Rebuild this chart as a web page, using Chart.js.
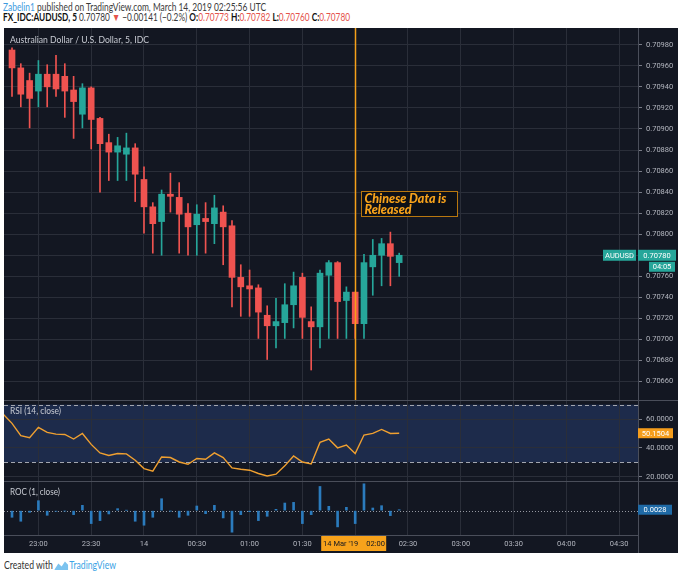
<!DOCTYPE html>
<html>
<head>
<meta charset="utf-8">
<script src="https://cdn.jsdelivr.net/npm/chart.js@4.4.1/dist/chart.umd.min.js"></script>
<style>
  html, body { margin: 0; padding: 0; background: #fff; }
  body { width: 680px; height: 577px; position: relative; overflow: hidden; font-family: Lato, "Open Sans", sans-serif; }
  .hdr { position: absolute; left: 3px; white-space: nowrap; font-size: 10.5px; line-height: 12px; color: #3a3a3a; transform-origin: 0 50%; }
  #hdr1 { top: 1px; }
  #hdr2 { top: 11px; }
  .blue { color: #3d9be0; }
  .red { color: #e5534b; }
  .hdr b { color: #111; }
  #wrap { position: absolute; left: 4px; top: 28px; width: 674px; height: 525px; background: #131722; }
  .pane { position: absolute; left: 0; width: 674px; }
  #pPrice { top: 0; height: 372px; }
  #pRsi { top: 372px; height: 81px; }
  #pRoc { top: 453px; height: 72px; }
  #footer { position: absolute; left: 4px; top: 559px; white-space: nowrap; font-size: 10.5px; line-height: 12px; color: #333; transform-origin: 0 50%; }
  #footer .tv { color: #3ba3e5; }
  #footer svg { vertical-align: -1px; margin: 0 1px 0 2px; }
</style>
</head>
<body>
<div id="hdr1" class="hdr"><span class="blue">Zabelin1</span> published on TradingView.com, March 14, 2019 02:25:56 UTC</div>
<div id="hdr2" class="hdr"><b>FX_IDC:AUDUSD, 5</b> 0.70780 <span class="red">▼</span> −0.00141 (−0.2%) <b>O:</b><span class="red">0.70773</span> <b>H:</b><span class="red">0.70782</span> <b>L:</b><span class="red">0.70760</span> <b>C:</b><span class="red">0.70780</span></div>
<div id="wrap">
  <div id="pPrice" class="pane"><canvas id="cPrice"></canvas></div>
  <div id="pRsi" class="pane"><canvas id="cRsi"></canvas></div>
  <div id="pRoc" class="pane"><canvas id="cRoc"></canvas></div>
</div>
<div id="footer">Created with<svg width="17" height="9" viewBox="0 0 17 9"><path d="M0 9 L5 2.5 L9 5.5 L13 0.5 L17 4 L17 9 Z" fill="#7cc3ef"/></svg><span class="tv">TradingView</span></div>
<script>
// 5-minute candles, 22:45 .. 02:25 (index 0 = 22:45)
const open  = [0.70975, 0.70958, 0.70946, 0.70936, 0.70952, 0.70952, 0.70950, 0.70937, 0.70914, 0.70939,
               0.70910, 0.70887, 0.70878, 0.70876, 0.70882, 0.70852, 0.70826, 0.70812, 0.70838, 0.70835,
               0.70820, 0.70809, 0.70815, 0.70810, 0.70821, 0.70808, 0.70759, 0.70751, 0.70749, 0.70723,
               0.70713, 0.70716, 0.70733, 0.70759, 0.70717, 0.70712, 0.70761, 0.70773, 0.70737, 0.70745,
               0.70715, 0.70769, 0.70780, 0.70791, 0.70773];
const high  = [0.70977, 0.70962, 0.70953, 0.70965, 0.70961, 0.70970, 0.70962, 0.70950, 0.70943, 0.70940,
               0.70911, 0.70895, 0.70892, 0.70896, 0.70886, 0.70864, 0.70830, 0.70842, 0.70858, 0.70849,
               0.70829, 0.70828, 0.70830, 0.70837, 0.70827, 0.70813, 0.70771, 0.70766, 0.70752, 0.70732,
               0.70739, 0.70753, 0.70764, 0.70763, 0.70731, 0.70766, 0.70775, 0.70774, 0.70750, 0.70745,
               0.70781, 0.70795, 0.70796, 0.70802, 0.70782];
const low   = [0.70931, 0.70921, 0.70901, 0.70921, 0.70921, 0.70931, 0.70911, 0.70891, 0.70901, 0.70881,
               0.70840, 0.70851, 0.70851, 0.70851, 0.70831, 0.70801, 0.70782, 0.70780, 0.70821, 0.70782,
               0.70780, 0.70780, 0.70782, 0.70791, 0.70771, 0.70731, 0.70722, 0.70722, 0.70701, 0.70681,
               0.70692, 0.70701, 0.70711, 0.70701, 0.70671, 0.70692, 0.70701, 0.70701, 0.70701, 0.70701,
               0.70701, 0.70742, 0.70751, 0.70751, 0.70760];
const close = [0.70958, 0.70933, 0.70929, 0.70952, 0.70940, 0.70938, 0.70936, 0.70926, 0.70939, 0.70909,
               0.70886, 0.70878, 0.70884, 0.70882, 0.70857, 0.70826, 0.70810, 0.70838, 0.70836, 0.70819,
               0.70807, 0.70819, 0.70812, 0.70825, 0.70807, 0.70759, 0.70750, 0.70748, 0.70726, 0.70713,
               0.70717, 0.70733, 0.70751, 0.70721, 0.70712, 0.70763, 0.70773, 0.70736, 0.70745, 0.70715,
               0.70773, 0.70780, 0.70791, 0.70779, 0.70780];

// RSI(14) starts one bar earlier (22:40, cut by the left edge)
const rsi = [63.3, 57.0, 48.4, 47.0, 54.2, 50.7, 49.5, 49.3, 46.1, 50.0, 42.4,
             36.5, 34.7, 36.1, 35.8, 31.4, 25.6, 23.8, 33.7, 33.3, 30.2,
             28.6, 32.6, 32.1, 36.5, 33.3, 26.1, 25.2, 24.5, 22.2, 20.5,
             21.7, 27.5, 34.4, 30.2, 28.8, 43.8, 46.1, 40.0, 41.9, 36.1,
             48.9, 50.0, 52.8, 50.0, 50.1504];

// ROC(1) in percent
const roc = [-0.020, -0.032, -0.005, 0.030, -0.014, -0.002, -0.001, -0.012, 0.016, -0.039,
             -0.030, -0.010, 0.006, 0.001, -0.032, -0.044, -0.020, 0.036, -0.001, -0.020,
             -0.014, 0.014, -0.009, 0.016, -0.022, -0.065, -0.012, -0.003, -0.030, -0.017,
             0.004, 0.023, 0.025, -0.039, -0.012, 0.073, 0.013, -0.049, 0.010, -0.039,
             0.081, 0.008, 0.015, -0.015, 0.0028];

const xTickIndex  = [3, 9, 15, 21, 27, 33, 39, 45, 51, 57, 63, 69];
const xTickLabels = ['23:00', '23:30', '14', '00:30', '01:00', '01:30', '02:00', '02:30', '03:00', '03:30', '04:00', '04:30'];
const priceTicks  = [0.70660, 0.70680, 0.70700, 0.70720, 0.70740, 0.70760, 0.70780, 0.70800, 0.70820,
                     0.70840, 0.70860, 0.70880, 0.70900, 0.70920, 0.70940, 0.70960, 0.70980];
const rsiTicks    = [20, 40, 60];

const eventIndex = 39;        // 02:00, Chinese data release
const eventLabelPrice = 0.70841;

const X_MIN = -0.91, X_MAX = 71.14;
const UP = '#26a69a', DOWN = '#ef5350';
const gridColor = '#2a2e39';
const axisLine = '#4a4e5a';
const textColor = '#b2b5be';

Chart.defaults.font.family = 'Roboto';
Chart.defaults.font.size = 7.5;
Chart.defaults.animation = false;

function fitHeader(id, w) {
  const el = document.getElementById(id);
  const cur = el.getBoundingClientRect().width;
  el.style.transform = 'scaleX(' + (w / cur) + ')';
}
fitHeader('hdr1', 263);
fitHeader('hdr2', 347);
fitHeader('footer', 112);

function xAxis(showLabels) {
  return {
    type: 'linear', min: X_MIN, max: X_MAX, offset: false,
    afterBuildTicks: s => { s.ticks = xTickIndex.map(v => ({value: v})); },
    afterFit: s => { s.height = showLabels ? 18 : 0; s.paddingLeft = 0; s.paddingRight = 0; },
    grid: { color: gridColor, drawTicks: false, offset: false },
    border: { display: showLabels, color: axisLine },
    ticks: { display: showLabels, autoSkip: false, maxRotation: 0, padding: 5, color: textColor,
             callback: (v, i) => xTickLabels[i] }
  };
}

function yAxis(min, max, ticks, fmt) {
  return {
    position: 'right', min: min, max: max,
    afterBuildTicks: s => { s.ticks = ticks.map(v => ({value: v})); },
    afterFit: s => { s.width = 40; s.paddingTop = 0; s.paddingBottom = 0; },
    grid: { color: gridColor, tickColor: '#787b86', tickLength: 4 },
    border: { color: axisLine },
    ticks: { color: textColor, padding: 4, autoSkip: false, callback: fmt }
  };
}

function tag(ctx, x, y, w, h, bg, text, fg) {
  ctx.fillStyle = bg;
  ctx.fillRect(x, y - h / 2, w, h);
  ctx.fillStyle = fg || '#ffffff';
  ctx.font = '7.5px Roboto';
  ctx.textAlign = 'center';
  ctx.textBaseline = 'middle';
  ctx.fillText(text, x + w / 2, y + 0.5);
}

function paneTitle(ctx, text, x, y, maxW) {
  ctx.fillStyle = '#c8cbd3';
  ctx.font = '10px Lato';
  ctx.textAlign = 'left';
  ctx.textBaseline = 'middle';
  ctx.fillText(text, x, y, maxW);
}

function separator(chart) {
  const ctx = chart.ctx, a = chart.chartArea;
  ctx.save();
  ctx.strokeStyle = axisLine;
  ctx.lineWidth = 1;
  ctx.beginPath();
  ctx.moveTo(0, a.top + 0.5);
  ctx.lineTo(chart.width, a.top + 0.5);
  ctx.stroke();
  ctx.restore();
}

const idx = open.map((_, i) => i);
const candleColor = idx.map(i => close[i] >= open[i] ? UP : DOWN);

// ---- price pane ----
const pricePlugin = {
  id: 'priceDecor',
  afterDraw(chart) {
    const ctx = chart.ctx, a = chart.chartArea;
    const xs = chart.scales.x, ys = chart.scales.y;
    ctx.save();
    paneTitle(ctx, 'Australian Dollar / U.S. Dollar, 5, IDC', 6, 12, 139);

    const lx = Math.round(xs.getPixelForValue(eventIndex)) + 0.5;
    ctx.strokeStyle = '#f5a01a';
    ctx.lineWidth = 1.5;
    ctx.beginPath();
    ctx.moveTo(lx, a.top);
    ctx.lineTo(lx, a.bottom);
    ctx.stroke();

    const bx = lx + 6, by = Math.round(ys.getPixelForValue(eventLabelPrice)) + 0.5;
    ctx.fillStyle = '#0d1017';
    ctx.fillRect(bx, by, 96, 25);
    ctx.strokeStyle = '#b8770f';
    ctx.lineWidth = 1;
    ctx.strokeRect(bx, by, 96, 25);
    ctx.fillStyle = '#f7a21b';
    ctx.font = 'italic 900 12.5px Lato';
    ctx.textAlign = 'left';
    ctx.textBaseline = 'middle';
    ctx.fillText('Chinese Data is', bx + 3, by + 7, 91);
    ctx.fillText('Released', bx + 3, by + 18.5, 91);

    const last = close[close.length - 1];
    const py = ys.getPixelForValue(last);
    tag(ctx, a.right - 35, py, 33, 11, UP, 'AUDUSD');
    tag(ctx, a.right, py, 38, 11, UP, last.toFixed(5));
    tag(ctx, a.right + 11, py + 11.5, 26, 10, UP, '04:05');
    ctx.restore();
  }
};

new Chart(document.getElementById('cPrice'), {
  type: 'bar',
  data: {
    datasets: [
      { data: idx.map(i => ({x: i, y: [low[i], high[i]]})), backgroundColor: candleColor,
        barThickness: 1, grouped: false, order: 2 },
      { data: idx.map(i => ({x: i, y: [open[i], close[i]]})), backgroundColor: candleColor,
        barThickness: 6, minBarLength: 1, grouped: false, order: 1 }
    ]
  },
  options: {
    responsive: true, maintainAspectRatio: false,
    layout: { padding: 0 },
    plugins: { legend: { display: false }, tooltip: { enabled: false } },
    scales: {
      x: xAxis(false),
      y: yAxis(0.706425, 0.709959, priceTicks, v => v.toFixed(5))
    }
  },
  plugins: [pricePlugin]
});

// ---- RSI pane ----
const rsiPlugin = {
  id: 'rsiDecor',
  beforeDraw(chart) {
    const ctx = chart.ctx, a = chart.chartArea, ys = chart.scales.y;
    const y70 = ys.getPixelForValue(70), y30 = ys.getPixelForValue(30);
    ctx.save();
    ctx.fillStyle = '#1d2b4b';
    ctx.fillRect(a.left, y70, a.right - a.left, y30 - y70);
    ctx.restore();
  },
  beforeDatasetsDraw(chart) {
    const ctx = chart.ctx, a = chart.chartArea, ys = chart.scales.y;
    ctx.save();
    ctx.strokeStyle = '#a3a6af';
    ctx.lineWidth = 1;
    ctx.setLineDash([4, 3]);
    [70, 30].forEach(v => {
      const y = Math.round(ys.getPixelForValue(v)) + 0.5;
      ctx.beginPath();
      ctx.moveTo(a.left, y);
      ctx.lineTo(a.right, y);
      ctx.stroke();
    });
    ctx.restore();
  },
  afterDraw(chart) {
    const ctx = chart.ctx, a = chart.chartArea, ys = chart.scales.y;
    ctx.save();
    separator(chart);
    paneTitle(ctx, 'RSI (14, close)', 6, 11, 51);
    const last = rsi[rsi.length - 1];
    tag(ctx, a.right, ys.getPixelForValue(last), 35, 10, '#f59d1c', last.toFixed(4));
    ctx.restore();
  }
};

new Chart(document.getElementById('cRsi'), {
  type: 'line',
  data: {
    datasets: [{
      data: rsi.map((v, i) => ({x: i - 1, y: v})),
      borderColor: '#f0a030', borderWidth: 1.4, pointRadius: 0, tension: 0, fill: false
    }]
  },
  options: {
    responsive: true, maintainAspectRatio: false,
    layout: { padding: 0 },
    plugins: { legend: { display: false }, tooltip: { enabled: false } },
    scales: {
      x: xAxis(false),
      y: yAxis(17.0, 73.2, rsiTicks, v => v.toFixed(4))
    }
  },
  plugins: [rsiPlugin]
});

// ---- ROC pane ----
const rocPlugin = {
  id: 'rocDecor',
  beforeDatasetsDraw(chart) {
    const ctx = chart.ctx, a = chart.chartArea, ys = chart.scales.y;
    const y0 = Math.round(ys.getPixelForValue(0)) + 0.5;
    ctx.save();
    ctx.strokeStyle = '#9598a1';
    ctx.lineWidth = 1;
    ctx.setLineDash([1, 2]);
    ctx.beginPath();
    ctx.moveTo(a.left, y0);
    ctx.lineTo(a.right, y0);
    ctx.stroke();
    ctx.restore();
  },
  afterDraw(chart) {
    const ctx = chart.ctx, a = chart.chartArea, xs = chart.scales.x, ys = chart.scales.y;
    ctx.save();
    separator(chart);
    paneTitle(ctx, 'ROC (1, close)', 6, 11, 50);
    const last = roc[roc.length - 1];
    tag(ctx, a.right, ys.getPixelForValue(last), 34, 10, '#1f6aa6', last.toFixed(4));

    // right border through the time axis
    ctx.strokeStyle = axisLine;
    ctx.lineWidth = 1;
    ctx.beginPath();
    ctx.moveTo(Math.round(a.right) + 0.5, a.bottom);
    ctx.lineTo(Math.round(a.right) + 0.5, chart.height);
    ctx.stroke();

    // crosshair time label
    const lx = xs.getPixelForValue(eventIndex);
    ctx.fillStyle = '#f7a21b';
    ctx.fillRect(lx - 34, a.bottom + 1, 65, 15);
    ctx.fillStyle = '#131722';
    ctx.font = '7.5px Roboto';
    ctx.textBaseline = 'middle';
    ctx.textAlign = 'right';
    ctx.fillText("14 Mar '19", lx + 3, a.bottom + 9);
    ctx.textAlign = 'left';
    ctx.fillText('02:00', lx + 11, a.bottom + 9);
    ctx.restore();
  }
};

new Chart(document.getElementById('cRoc'), {
  type: 'bar',
  data: {
    datasets: [{
      data: roc.map((v, i) => ({x: i, y: v})),
      backgroundColor: '#2b7bbd', barThickness: 2
    }]
  },
  options: {
    responsive: true, maintainAspectRatio: false,
    layout: { padding: 0 },
    plugins: { legend: { display: false }, tooltip: { enabled: false } },
    scales: {
      x: xAxis(true),
      y: {
        position: 'right', min: -0.0735, max: 0.0895,
        afterFit: s => { s.width = 40; s.paddingTop = 0; s.paddingBottom = 0; },
        grid: { drawOnChartArea: false, drawTicks: false },
        border: { color: axisLine },
        ticks: { display: false }
      }
    }
  },
  plugins: [rocPlugin]
});
</script>
</body>
</html>
